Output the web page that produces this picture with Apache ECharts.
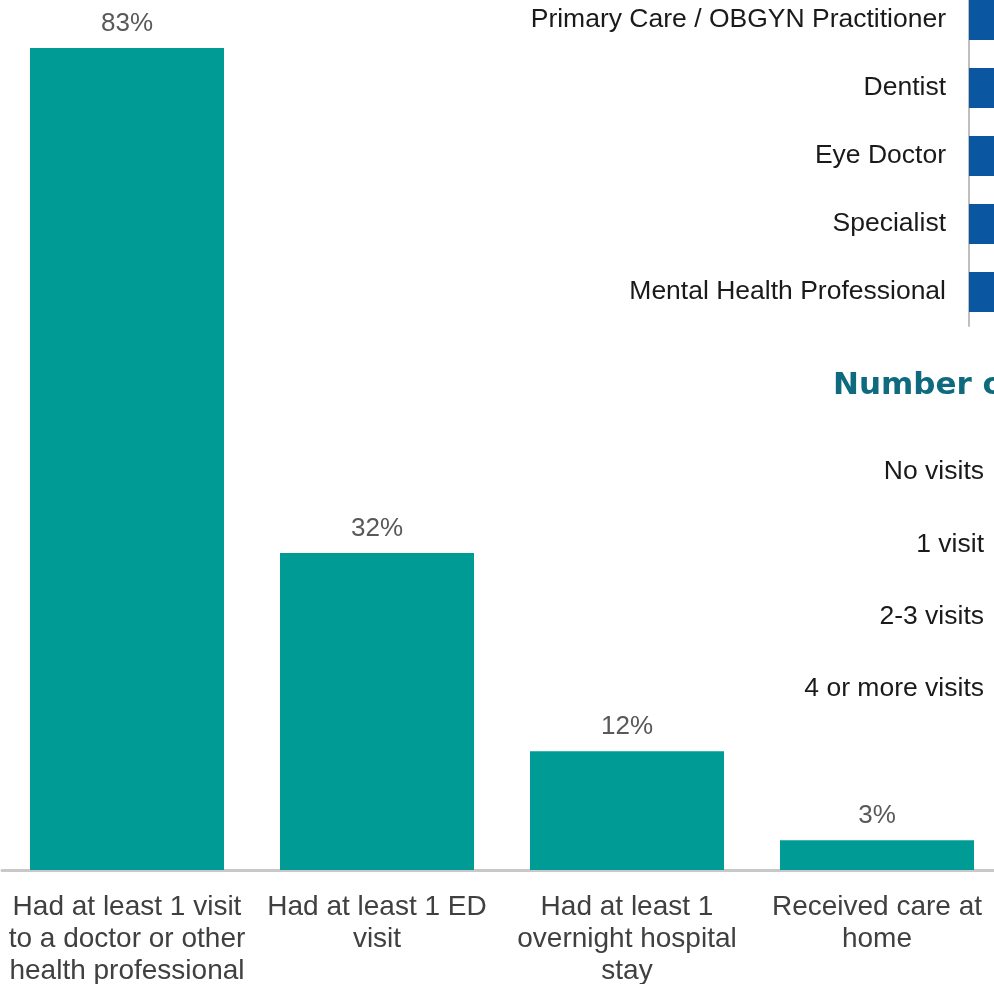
<!DOCTYPE html>
<html>
<head>
<meta charset="utf-8">
<script src="https://cdn.jsdelivr.net/npm/echarts@6/dist/echarts.min.js"></script>
<style>
  html, body { margin: 0; padding: 0; background: #fff; }
  #chart { width: 994px; height: 984px; }
</style>
</head>
<body>
<div id="chart"></div>
<script>
// main chart: share of respondents
const careCategories = [
  'Had at least 1 visit\nto a doctor or other\nhealth professional',
  'Had at least 1 ED\nvisit',
  'Had at least 1\novernight hospital\nstay',
  'Received care at\nhome'
]
const careValues = [83, 32, 12, 3]

// right panel: type of provider (bars run off the picture)
const providerCategories = [
  'Primary Care / OBGYN Practitioner',
  'Dentist',
  'Eye Doctor',
  'Specialist',
  'Mental Health Professional'
]
const providerValues = [78, 58, 42, 45, 16]

// lower right panel: number of visits (bars run off the picture)
const visitTitle = 'Number of Visits to a Doctor or Other Health Professional'
const visitCategories = ['No visits', '1 visit', '2-3 visits', '4 or more visits']
const visitValues = [17, 21, 30, 32]

const FONT = "'Liberation Sans', Arial, sans-serif"

const chart = echarts.init(document.getElementById('chart'))

const option = {
  backgroundColor: '#ffffff',
  animation: false,
  title: {
    text: visitTitle,
    left: 833,
    top: 370,
    padding: 0,
    textStyle: { fontFamily: "'DejaVu Sans', sans-serif", fontSize: 31, fontWeight: 'bold', color: '#0E6A7E' }
  },
  grid: [
    { left: 2, top: 48, width: 1000, height: 822, outerBoundsMode: 'none', containLabel: false },
    { left: 969, top: -14, width: 320, height: 340, outerBoundsMode: 'none', containLabel: false },
    { left: 1000, top: 436, width: 320, height: 289, outerBoundsMode: 'none', containLabel: false }
  ],
  xAxis: [
    {
      gridIndex: 0,
      type: 'category',
      data: careCategories,
      axisLine: { show: true, lineStyle: { color: '#C8C8C8', width: 3 } },
      axisTick: { show: false },
      axisLabel: {
        interval: 0,
        margin: 21,
        fontFamily: FONT,
        fontSize: 28,
        lineHeight: 32,
        color: '#404040'
      }
    },
    { gridIndex: 1, type: 'value', min: 0, max: 100, show: false },
    { gridIndex: 2, type: 'value', min: 0, max: 100, show: false }
  ],
  yAxis: [
    { gridIndex: 0, type: 'value', min: 0, max: 83, show: false },
    {
      gridIndex: 1,
      type: 'category',
      inverse: true,
      data: providerCategories,
      axisLine: { show: true, lineStyle: { color: '#BFBFBF', width: 2 } },
      axisTick: { show: false },
      axisLabel: { margin: 23, fontFamily: FONT, fontSize: 26.5, color: '#1A1A1A' }
    },
    {
      gridIndex: 2,
      type: 'category',
      inverse: true,
      data: visitCategories,
      axisLine: { show: false },
      axisTick: { show: false },
      axisLabel: { margin: 16, fontFamily: FONT, fontSize: 26.5, color: '#1A1A1A' }
    }
  ],
  series: [
    {
      name: 'Care',
      type: 'bar',
      xAxisIndex: 0,
      yAxisIndex: 0,
      data: careValues,
      barWidth: 194,
      itemStyle: { color: '#009B95' },
      label: {
        show: true,
        position: 'top',
        distance: 11,
        formatter: '{c}%',
        fontFamily: FONT,
        fontSize: 26,
        color: '#595959'
      }
    },
    {
      name: 'Provider',
      type: 'bar',
      xAxisIndex: 1,
      yAxisIndex: 1,
      data: providerValues,
      barWidth: 40,
      itemStyle: { color: '#0A56A0' }
    },
    {
      name: 'Visits',
      type: 'bar',
      xAxisIndex: 2,
      yAxisIndex: 2,
      data: visitValues,
      barWidth: 40,
      itemStyle: { color: '#0A56A0' }
    }
  ]
}

chart.setOption(option)
</script>
</body>
</html>
